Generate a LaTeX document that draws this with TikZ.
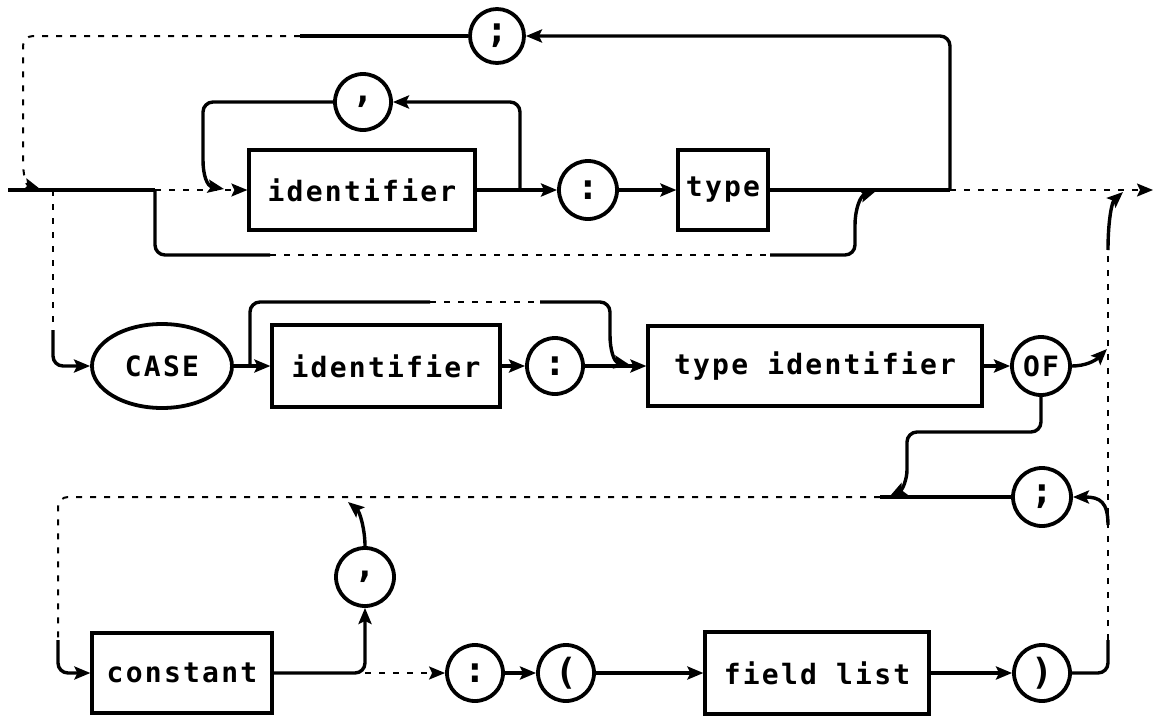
\documentclass[tikz,border=0pt]{standalone}
\usepackage{fontspec}
\usepackage{tikz}
\usetikzlibrary{arrows.meta,shapes.geometric}
\newfontfamily\plotfont[LetterSpace=8]{DejaVu Sans Mono}

\tikzset{
    wire/.style={line width=1.7pt,rounded corners=5pt},
    faded/.style={line width=1pt,dash pattern=on 3pt off 4pt,rounded corners=5pt},
    arr/.style={-{Stealth[length=8pt,width=6.5pt,inset=1.5pt]}},
    term/.style={circle,draw,line width=1.9pt,minimum size=#1,inner sep=0pt,
        font=\plotfont\bfseries\fontsize{18}{20}\selectfont},
    term/.default=28pt,
    nonterm/.style 2 args={draw,line width=1.6pt,minimum width=#1,minimum height=#2,
        inner sep=0pt,font=\plotfont\bfseries\fontsize{14}{16}\selectfont},
}

\begin{document}
\begin{tikzpicture}[x=0.5pt,y=-0.5pt]
    \useasboundingbox (0,0) rectangle (1157,718);

    \node[term=27pt] (semiTop) at (497,36) {;};
    \node[term] (commaTop) at (363,102) {,};
    \node[nonterm={113pt}{40pt}] (ident1) at (362,190) {identifier};
    \node[term=29pt] (colon1) at (588,190) {:};
    \node[nonterm={45pt}{40pt}] (type) at (723,190) {type};

    \node[ellipse,draw,line width=1.9pt,minimum width=70pt,minimum height=42pt,inner sep=0pt,
        font=\plotfont\bfseries\fontsize{14}{16}\selectfont] (case) at (162,366) {CASE};
    \node[nonterm={114pt}{41pt}] (ident2) at (386,366) {identifier};
    \node[term] (colon2) at (555,366) {:};
    \node[nonterm={167pt}{40pt}] (typeid) at (815,366) {type identifier};
    \node[term=29pt,font=\plotfont\bfseries\fontsize{14}{16}\selectfont] (of) at (1041,366) {OF};

    \node[term=29pt] (semiLow) at (1042,497) {;};
    \node[term=29pt] (commaLow) at (365,577) {,};
    \node[nonterm={90pt}{40pt}] (constant) at (182,673) {constant};
    \node[term] (colon3) at (475,673) {:};
    \node[term] (lparen) at (566,673) {(};
    \node[nonterm={112pt}{41pt}] (fieldlist) at (817,673) {field list};
    \node[term] (rparen) at (1042,673) {)};

    \coordinate (in) at (8,190);
    \coordinate (s0) at (53,190);
    \coordinate (s1) at (155,190);
    \coordinate (s2) at (520,190);
    \coordinate (s3) at (950,190);
    \coordinate (out) at (1153,190);
    \coordinate (t1) at (300,36);
    \coordinate (t2) at (40,189);
    \coordinate (c1) at (224,189);
    \coordinate (b1) at (270,255);
    \coordinate (b2) at (770,255);
    \coordinate (b3) at (876,191);
    \coordinate (d1) at (53,330);

    \draw[wire] (in) -- (s1);
    \draw[faded,arr] (s1) -- (ident1.west);
    \draw[wire,arr] (ident1.east) -- (colon1.west);
    \draw[wire,arr] (colon1.east) -- (type.west);
    \draw[wire] (type.east) -- (s3);
    \draw[faded,arr] (s3) -- (out);
    \draw[wire,arr] (s2) |- (commaTop.east);
    \draw[wire,arr] (commaTop.west) -| (203,150) .. controls (203,175) and (207,186) .. (c1);
    \draw[wire,arr] (s3) |- (semiTop.east);
    \draw[wire] (semiTop.west) -- (t1);
    \draw[faded,arr] (t1) -| (23,150) .. controls (23,175) and (26,185) .. (t2);
    \draw[wire] (s1) |- (b1);
    \draw[faded] (b1) -- (b2);
    \draw[wire,arr] (b2) -| (855,235) .. controls (855,210) and (860,196) .. (b3);
    \draw[faded] (s0) -- (d1);
    \draw[wire,arr] (d1) |- (case.west);

    \coordinate (s4) at (250,366);
    \coordinate (k1) at (430,302);
    \coordinate (k2) at (540,302);
    \coordinate (k3) at (630,365);
    \coordinate (o1) at (1107,349);
    \coordinate (o2) at (890,496);

    \draw[wire,arr] (case.east) -- (ident2.west);
    \draw[wire] (s4) |- (k1);
    \draw[faded] (k1) -- (k2);
    \draw[wire,arr] (k2) -| (610,325) .. controls (610,350) and (614,362) .. (k3);
    \draw[wire,arr] (ident2.east) -- (colon2.west);
    \draw[wire,arr] (colon2.east) -- (typeid.west);
    \draw[wire,arr] (typeid.east) -- (of.west);
    \draw[wire,arr] (of.east) .. controls (1085,366) and (1095,361) .. (o1);
    \draw[wire,arr] (of.south) |- (907,432) -- (907,460) .. controls (907,480) and (902,490) .. (o2);

    \coordinate (r1) at (880,497);
    \coordinate (r2) at (58,640);
    \coordinate (s5) at (365,673);
    \coordinate (u1) at (348,502);
    \coordinate (v1) at (1108,640);
    \coordinate (v2) at (1108,250);
    \coordinate (v3) at (1108,525);
    \coordinate (v4) at (1123,192);

    \draw[wire] (semiLow.west) -- (r1);
    \draw[faded] (r1) -| (r2);
    \draw[wire,arr] (r2) |- (constant.west);
    \draw[wire,arr] (constant.east) -| (commaLow.south);
    \draw[faded,arr] (s5) -- (colon3.west);
    \draw[wire,arr] (commaLow.north) .. controls (365,530) and (360,512) .. (u1);
    \draw[wire,arr] (colon3.east) -- (lparen.west);
    \draw[wire,arr] (lparen.east) -- (fieldlist.west);
    \draw[wire,arr] (fieldlist.east) -- (rparen.west);
    \draw[wire] (rparen.east) -| (v1);
    \draw[faded] (v1) -- (v2);
    \draw[wire,arr] (v2) .. controls (1108,220) and (1112,202) .. (v4);
    \draw[wire,arr] (v3) .. controls (1108,502) and (1100,497) .. (semiLow.east);
\end{tikzpicture}
\end{document}
